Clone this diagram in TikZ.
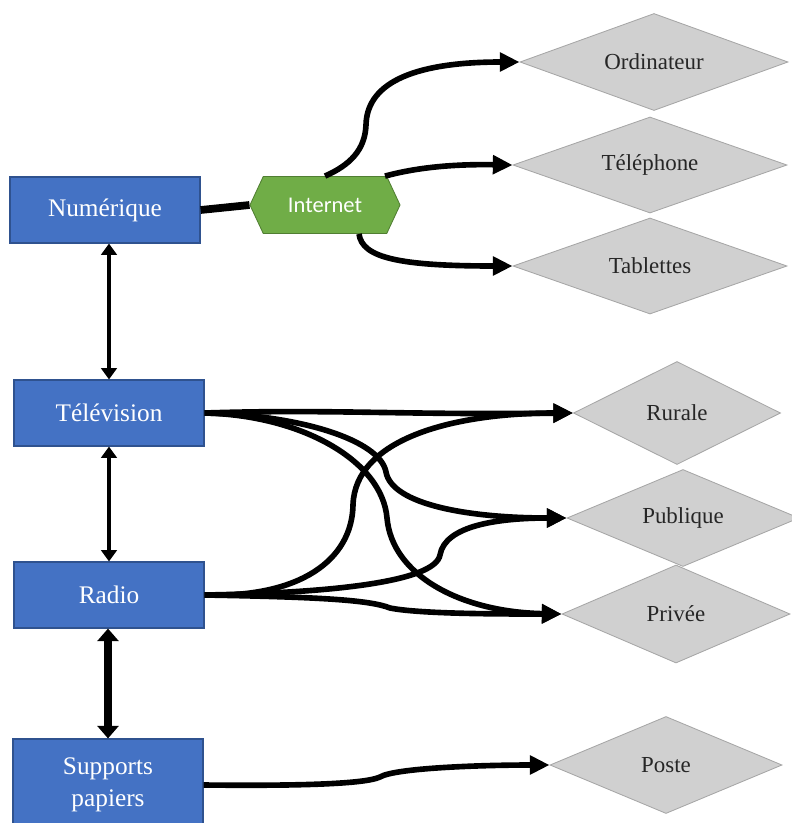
\documentclass[tikz,border=0pt]{standalone}
\usepackage{fontspec}
\setmainfont{Liberation Serif}
\newfontfamily\calibri{Carlito}
\usetikzlibrary{positioning}
\usetikzlibrary{arrows.meta}
\usetikzlibrary{shapes.geometric,shapes.symbols}
\definecolor{mediablue}{RGB}{68,114,196}
\definecolor{mediaborder}{RGB}{47,82,143}
\definecolor{netgreen}{RGB}{112,173,71}
\definecolor{netborder}{RGB}{80,126,50}
\definecolor{usegray}{RGB}{208,208,208}
\definecolor{useborder}{RGB}{166,166,166}

\begin{document}
\begin{tikzpicture}[x=0.025cm, y=-0.025cm,
	media/.style={rectangle, draw=mediaborder, line width=0.8pt, fill=mediablue, text=white, font=\fontsize{18}{23}\selectfont, minimum width=4.75cm, minimum height=1.65cm, inner sep=0pt, align=center},
	net/.style={signal, signal to=west and east, signal pointer angle=130, draw=netborder, line width=0.6pt, fill=netgreen, text=white, font=\calibri\fontsize{16}{19}\selectfont, minimum width=3.75cm, minimum height=1.425cm, inner sep=0pt},
	usage/.style 2 args={diamond, aspect=3, draw=useborder, line width=0.6pt, fill=usegray, text=black!85, font=\fontsize{16.3}{19}\selectfont, inner sep=0pt, minimum width=#1, minimum height=#2},
	link/.style={line width=4pt, -{Triangle[length=14pt,width=13pt]}},
	both/.style={line width=2.8pt, {Triangle[length=8pt,width=11pt]}-{Triangle[length=8pt,width=11pt]}},
	bothwide/.style={line width=5pt, {Triangle[length=9pt,width=15pt]}-{Triangle[length=9pt,width=15pt]}}]
			\useasboundingbox (0,0) rectangle (791,823);
			% Media
			\node[media] (num) at (105,210) {Numérique};
			\node[media] (tv) at (109,413) {Télévision};
			\node[media] (rad) at (109,595) {Radio};
			\node[media, minimum height=2.3cm] (sup) at (108,785) {Supports\\papiers};
			\node[net] (int) at (325,205) {Internet};
			% Usages
			\node[usage={6.7cm}{2.425cm}] (ord) at (654,62) {Ordinateur};
			\node[usage={6.85cm}{2.4cm}] (tel) at (650,165) {Téléphone};
			\node[usage={6.85cm}{2.4cm}] (tab) at (650,266) {Tablettes};
			\node[usage={5.175cm}{2.575cm}] (rur) at (677,413) {Rurale};
			\node[usage={5.8cm}{2.425cm}] (pub) at (683,518) {Publique};
			\node[usage={5.7cm}{2.45cm}] (pri) at (676,614) {Privée};
			\node[usage={5.8cm}{2.425cm}] (pos) at (666,765) {Poste};
			% Between media
			\draw[both] (tv.north) -- (tv.north |- num.south);
			\draw[both] (rad.north) -- (rad.north |- tv.south);
			\draw[bothwide] (sup.north) -- (sup.north |- rad.south);
			% Internet
			\draw[line width=5.5pt] (num.east) -- (int.west);
			\draw[link] (int.north) .. controls (350,165) and (365,150) .. (366,125) .. controls (367,80) and (420,62) .. (ord.west);
			\draw[link] ([xshift=1.5cm]int.north) .. controls (415,168) and (450,164) .. (tel.west);
			\draw[link] ([xshift=0.85cm]int.south) .. controls (362,258) and (400,266) .. (tab.west);
			% Television
			\draw[link] (tv.east) .. controls (330,409) and (400,415) .. (rur.west);
			\draw[link] (tv.east) .. controls (300,415) and (380,440) .. (386,472) .. controls (392,505) and (470,518) .. (pub.west);
			\draw[link] (tv.east) .. controls (300,415) and (382,460) .. (387,518) .. controls (392,575) and (460,612) .. (pri.west);
			% Radio
			\draw[link] (rad.east) .. controls (300,598) and (352,560) .. (353,505) .. controls (355,440) and (450,413) .. (rur.west);
			\draw[link] (rad.east) .. controls (330,593) and (435,582) .. (440,555) .. controls (445,525) and (500,518) .. (pub.west);
			\draw[link] (rad.east) .. controls (320,597) and (370,600) .. (390,608) .. controls (420,614) and (500,614) .. (pri.west);
			% Supports papiers
			\draw[link] (sup.east) .. controls (300,786) and (365,784) .. (380,777) .. controls (395,768) and (480,765) .. (pos.west);
		\end{tikzpicture}
\end{document}
